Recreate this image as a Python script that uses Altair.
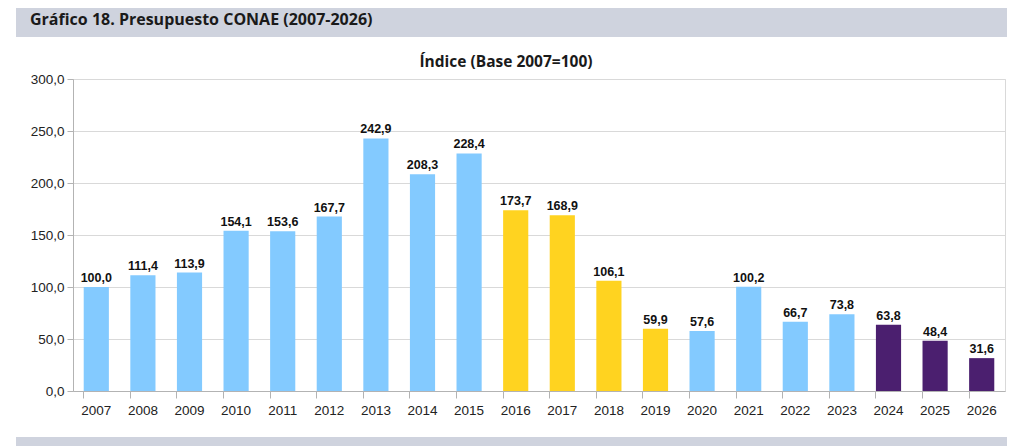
import altair as alt
import pandas as pd

years = [str(y) for y in range(2007, 2027)]
values = [100.0, 111.4, 113.9, 154.1, 153.6, 167.7, 242.9, 208.3, 228.4,
          173.7, 168.9, 106.1, 59.9, 57.6, 100.2, 66.7, 73.8, 63.8, 48.4, 31.6]
groups = ["a"] * 9 + ["b"] * 4 + ["a"] * 4 + ["c"] * 3
labels = [f"{v:.1f}".replace(".", ",") for v in values]

df = pd.DataFrame({"year": years, "value": values, "group": groups, "label": labels})

W, H = 932, 312

x_enc = alt.X("year:N", sort=years, title=None,
              scale=alt.Scale(paddingInner=0.46, paddingOuter=0.23),
              axis=alt.Axis(labelAngle=0, labelFont="Liberation Sans", labelFontSize=13.5,
                            labelColor="#222", domainColor="#b3b3b3", tickColor="#b3b3b3",
                            tickSize=7, bandPosition=0, labelPadding=5, grid=False))
y_enc = alt.Y("value:Q", title=None,
              scale=alt.Scale(domain=[0, 300], nice=False),
              axis=alt.Axis(values=[0, 50, 100, 150, 200, 250, 300], format=".1f",
                            labelExpr="replace(format(datum.value, '.1f'), '.', ',')",
                            labelFont="Liberation Sans", labelFontSize=13.5, labelColor="#222",
                            domainColor="#b3b3b3", tickColor="#b3b3b3", tickSize=6,
                            gridColor="#d9d9d9", labelPadding=3))

base = alt.Chart(df)

bars = base.mark_bar().encode(
    x=x_enc, y=y_enc,
    color=alt.Color("group:N", legend=None,
                    scale=alt.Scale(domain=["a", "b", "c"],
                                    range=["#83caff", "#ffd320", "#4b1f6f"])))

text = base.mark_text(dy=-9, font="Liberation Sans", fontSize=12.5, fontWeight="bold",
                      color="#111").encode(x=alt.X("year:N", sort=years), y="value:Q",
                                           text="label:N")

band_top = alt.Chart(df).mark_rect(color="#cfd3de").encode(
    x=alt.value(-57), x2=alt.value(934), y=alt.value(-90), y2=alt.value(-42))
band_bot = alt.Chart(df).mark_rect(color="#cfd3de").encode(
    x=alt.value(-57), x2=alt.value(934), y=alt.value(358), y2=alt.value(380))

header = alt.Chart(pd.DataFrame({"t": ["Gráfico 18. Presupuesto CONAE (2007-2026)"]})).mark_text(
    align="left", baseline="middle", font="Open Sans", fontSize=16, fontWeight="bold",
    color="#1a1a1a").encode(x=alt.value(-43), y=alt.value(-59), text="t:N")

subtitle = alt.Chart(pd.DataFrame({"t": ["Índice (Base 2007=100)"]})).mark_text(
    align="center", baseline="middle", font="Open Sans", fontSize=15.5, fontWeight="bold",
    color="#1a1a1a").encode(x=alt.value(433), y=alt.value(-17), text="t:N")

chart = alt.layer(band_top, band_bot, header, subtitle, bars, text).properties(
    width=W, height=H,
    autosize=alt.AutoSizeParams(type="none"),
    padding={"left": 65, "top": 71, "right": 3, "bottom": 55},
    background="white",
).configure_view(stroke="#d9d9d9")

chart.save("out.html", embed_options={"renderer": "svg", "actions": False})
